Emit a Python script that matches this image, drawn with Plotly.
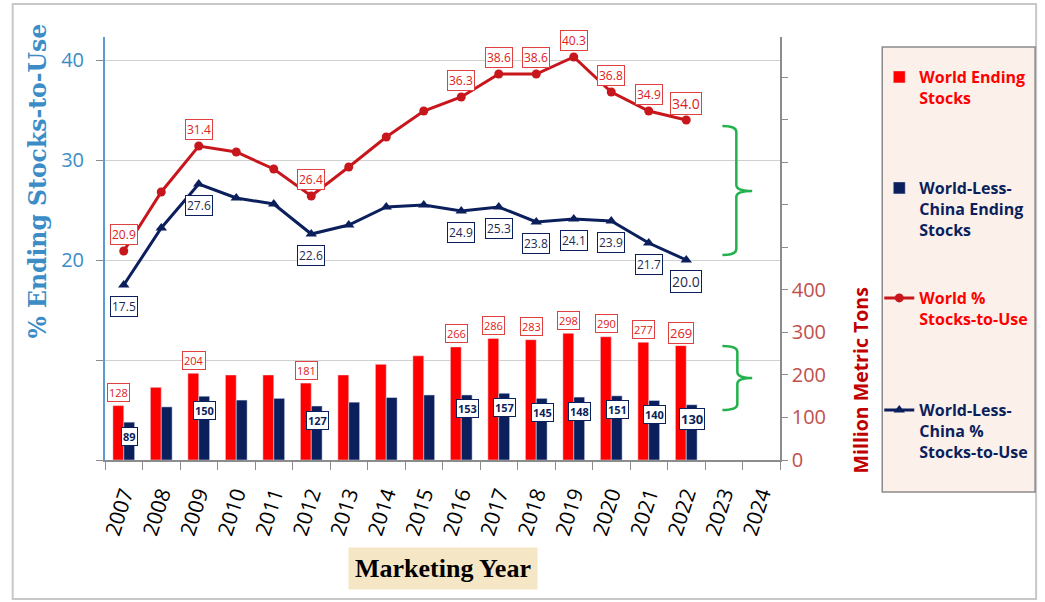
import plotly.graph_objects as go

# Marketing years shown on the axis (2023 and 2024 have no data yet)
years = list(range(2007, 2025))
data_years = list(range(2007, 2023))

# Ending stocks, million metric tons
world_stocks = [128, 171, 204, 200, 200, 181, 200, 225, 245, 266, 286, 283, 298, 290, 277, 269]
wlc_stocks = [89, 125, 150, 141, 145, 127, 136, 147, 153, 153, 157, 145, 148, 151, 140, 130]

# Stocks-to-use, percent
world_stu = [20.9, 26.8, 31.4, 30.8, 29.1, 26.4, 29.3, 32.3, 34.9, 36.3, 38.6, 38.6, 40.3, 36.8, 34.9, 34.0]
wlc_stu = [17.5, 23.2, 27.6, 26.2, 25.6, 22.6, 23.5, 25.3, 25.5, 24.9, 25.3, 23.8, 24.1, 23.9, 21.7, 20.0]

# years that get a value box
labelled = [2007, 2009, 2012, 2016, 2017, 2018, 2019, 2020, 2021, 2022]

RED = "#FF0000"
DARKRED = "#C8161D"
NAVY = "#0B1F5C"
BLUE = "#3C8DC6"

# plot area in pixels (used to place decorations)
L, R, T, B = 105, 785, 37, 460
W, H = R - L, B - T


def px(x, y):
    return (x - L) / W, (B - y) / H


def brace(x0, xv, xt, yt, ym, yb):
    r = 6
    pts = []
    a = px(x0, yt); pts.append("M%.4f,%.4f" % a)
    c = px(xv, yt); e = px(xv, yt + r); pts.append("Q%.4f,%.4f %.4f,%.4f" % (c + e))
    e = px(xv, ym - r); pts.append("L%.4f,%.4f" % e)
    c = px(xv, ym); e = px(xt, ym); pts.append("Q%.4f,%.4f %.4f,%.4f" % (c + e))
    c = px(xv, ym); e = px(xv, ym + r); pts.append("Q%.4f,%.4f %.4f,%.4f" % (c + e))
    e = px(xv, yb - r); pts.append("L%.4f,%.4f" % e)
    c = px(xv, yb); e = px(x0, yb); pts.append("Q%.4f,%.4f %.4f,%.4f" % (c + e))
    return " ".join(pts)


fig = go.Figure()

fig.add_trace(go.Bar(x=data_years, y=world_stocks, name="<b><span style='color:#FF0000'>World Ending<br>Stocks</span></b>",
                     marker_color=RED, yaxis="y2", legend="legend"))
fig.add_trace(go.Bar(x=data_years, y=wlc_stocks, name="<b><span style='color:#0B1F5C'>World-Less-<br>China Ending<br>Stocks</span></b>",
                     marker_color=NAVY, yaxis="y2", legend="legend2"))
fig.add_trace(go.Scatter(x=data_years, y=world_stu, mode="lines+markers",
                         name="<b><span style='color:#FF0000'>World %<br>Stocks-to-Use</span></b>",
                         line=dict(color=DARKRED, width=3), marker=dict(symbol="circle", size=9, color=DARKRED),
                         legend="legend3"))
fig.add_trace(go.Scatter(x=data_years, y=wlc_stu, mode="lines+markers",
                         name="<b><span style='color:#0B1F5C'>World-Less-<br>China %<br>Stocks-to-Use</span></b>",
                         line=dict(color=NAVY, width=3), marker=dict(symbol="triangle-up", size=10, color=NAVY),
                         legend="legend4"))

ann = []
for i, yr in enumerate(data_years):
    if yr not in labelled:
        continue
    sz = 13 if yr == 2022 else 11
    ann.append(dict(x=yr, y=world_stu[i], yref="y", text="%.1f" % world_stu[i], showarrow=False, yshift=17,
                    font=dict(color="#E02020", size=sz + 1, family="Open Sans"), bgcolor="white",
                    bordercolor="#E04040", borderwidth=1, borderpad=1))
    ann.append(dict(x=yr, y=wlc_stu[i], yref="y", text="%.1f" % wlc_stu[i], showarrow=False, yshift=-21,
                    font=dict(color="#1F2A50", size=sz + 1, family="Open Sans"), bgcolor="white",
                    bordercolor=NAVY, borderwidth=1, borderpad=1))
    ann.append(dict(x=yr, y=world_stocks[i], yref="y2", text="%d" % world_stocks[i], showarrow=False,
                    yshift=13, xshift=-5, font=dict(color="#E02020", size=sz, family="Open Sans"),
                    bgcolor="white", bordercolor="#E04040", borderwidth=1, borderpad=1))
    ann.append(dict(x=yr, y=wlc_stocks[i], yref="y2", text="<b>%d</b>" % wlc_stocks[i], showarrow=False,
                    yshift=-14, xshift=6, font=dict(color=NAVY, size=sz, family="Open Sans"),
                    bgcolor="white", bordercolor=NAVY, borderwidth=1, borderpad=1))

ax, ay = px(38, 181)
ann.append(dict(x=ax, y=ay, xref="paper", yref="paper", xanchor="center", yanchor="middle",
                text="<b>% Ending Stocks-to-Use</b>", textangle=-90,
                showarrow=False, font=dict(family="DejaVu Serif", size=23.5, color=BLUE)))
ax, ay = px(866, 380)
ann.append(dict(x=ax, y=ay, xref="paper", yref="paper", xanchor="center", yanchor="middle",
                text="<b>Million Metric Tons</b>", textangle=-90,
                showarrow=False, font=dict(family="Open Sans", size=19.5, color="#C00000")))
ax, ay = px(445, 568)
ann.append(dict(x=ax, y=ay, xref="paper", yref="paper", xanchor="center", yanchor="middle",
                text="<b>Marketing Year</b>", showarrow=False,
                font=dict(family="Liberation Serif", size=26, color="black"), bgcolor="#F5E7C6", borderpad=6))

shapes = []
x0, y0 = px(12, 599); x1, y1 = px(1043, 4)
shapes.append(dict(type="rect", xref="paper", yref="paper", x0=x0, y0=y0, x1=x1, y1=y1,
                   line=dict(color="#C8C8C8", width=2), layer="below"))
x0, y0 = px(888, 492); x1, y1 = px(1042, 47)
shapes.append(dict(type="rect", xref="paper", yref="paper", x0=x0, y0=y0, x1=x1, y1=y1,
                   fillcolor="#FCF1EA", line=dict(color="#8A8A8A", width=1.5), layer="below"))
shapes.append(dict(type="path", xref="paper", yref="paper", path=brace(727, 741, 757, 126, 191, 255),
                   line=dict(color="#22B14C", width=2.5)))
shapes.append(dict(type="path", xref="paper", yref="paper", path=brace(727, 742, 757, 346, 378, 410),
                   line=dict(color="#22B14C", width=2.5)))

leg = dict(bgcolor="rgba(0,0,0,0)", font=dict(family="Open Sans", size=16), valign="top",
           xanchor="left", yanchor="top", itemwidth=30)
lx = px(885, 0)[0]
legends = {}
for k, ytop in zip(["legend", "legend2", "legend3", "legend4"], [60, 171, 281, 393]):
    legends[k] = dict(leg, x=lx, y=px(0, ytop)[1])

fig.update_layout(
    width=1045, height=602,
    margin=dict(l=L, r=1045 - R, t=T, b=602 - B),
    paper_bgcolor="white", plot_bgcolor="white",
    barmode="group", bargap=0.42, bargroupgap=0,
    showlegend=True,
    xaxis=dict(range=[2006.5, 2024.5], tickvals=years, ticktext=[str(y) for y in years], tickangle=-72,
               tickfont=dict(family="Open Sans", size=21, color="black"), ticks="", ticklabelstandoff=12,
               minor=dict(ticks="outside", tick0=2006.5, dtick=1, ticklen=8, tickcolor="#8C8C8C", showgrid=False),
               showline=True, linecolor="#8C8C8C", linewidth=1.5, showgrid=False, zeroline=False),
    yaxis=dict(range=[0, 42.3], tickvals=[0, 10, 20, 30, 40], ticktext=["", "", "20", "30", "40"],
               tickfont=dict(family="Open Sans", size=20, color=BLUE), ticks="outside", ticklen=7,
               ticklabelstandoff=8,
               tickcolor="#8C8C8C", showline=True, linecolor="#5B9BD5", linewidth=2,
               showgrid=True, gridcolor="#D0D0D0", gridwidth=1.2, zeroline=False),
    yaxis2=dict(range=[0, 995], overlaying="y", side="right", tickvals=list(range(0, 1000, 100)),
                ticktext=["0", "100", "200", "300", "400", "", "", "", "", ""],
                tickfont=dict(family="Open Sans", size=20, color="#C0504D"), ticks="outside", ticklen=6,
                tickcolor="#8C8C8C", showline=True, linecolor="#8C8C8C", linewidth=1.5,
                showgrid=False, zeroline=False),
    annotations=ann,
    shapes=shapes,
    **legends,
)

# drop the page's default body margin so the figure sits at the window's corner
fig.write_html("out.html", config={"displayModeBar": False},
               post_script="document.body.style.margin='0';")
